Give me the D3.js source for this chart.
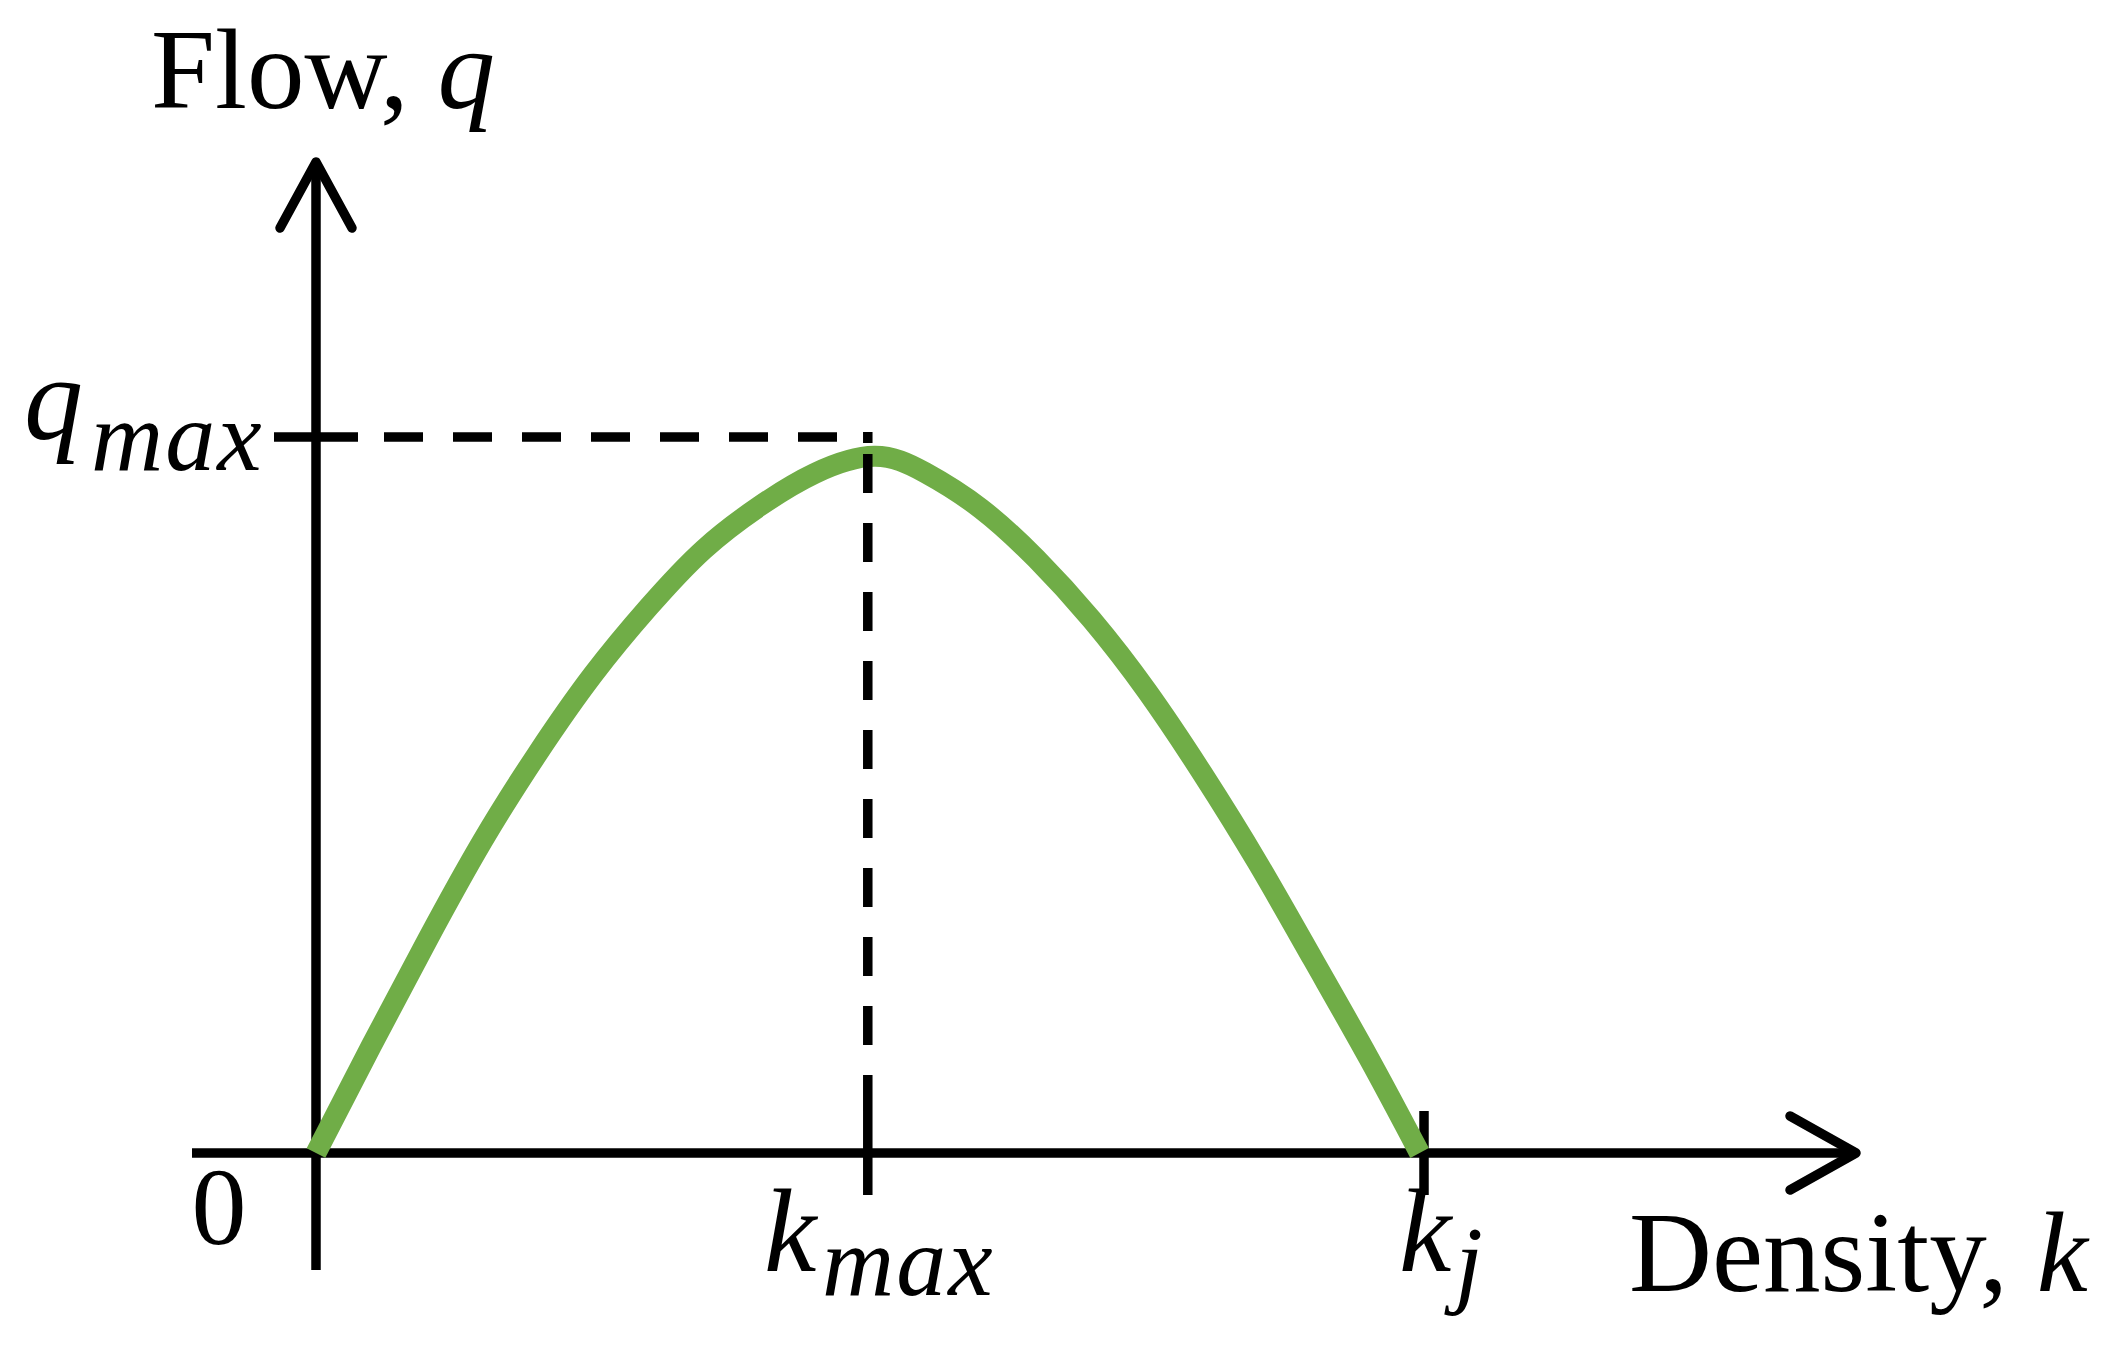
<!DOCTYPE html>
<html lang="en">
<head>
<meta charset="UTF-8">
<title>Flow-Density</title>
<style>
    body { margin: 0; background: #fff; }
    svg { display: block; }
    text { font-family: "Liberation Serif", "Times New Roman", serif; fill: #000; }
    .it { font-style: italic; }
</style>
</head>
<body>
<svg id="chart" width="2120" height="1351"></svg>
<script src="https://d3js.org/d3.v7.min.js"></script>
<script>
// density (% of jam density) and flow (% of q_max)
const density = [0, 5, 10, 15, 20, 25, 30, 35, 40, 45, 50.4, 55, 60, 65, 70, 75, 80, 85, 90, 95, 99.6];
const flow    = [0, 15.0, 29.6, 43.5, 55.8, 66.8, 76.2, 84.3, 90.3, 94.9, 97.3, 95.0, 90.0, 83.0, 74.5, 64.5, 53.0, 40.5, 27.0, 13.3, 0];

// marked values on the axes
const kMax = 49.8;
const kJam = 100;
const qMax = 100;

const svg = d3.select("#chart");

const x = d3.scaleLinear().domain([0, kJam]).range([316, 1424]);
const y = d3.scaleLinear().domain([0, qMax]).range([1153, 437]);

const lw = 9.5;
const x0 = x(0), y0 = y(0);

// axes with arrow heads
const axes = svg.append("g").attr("stroke", "#000").attr("stroke-width", lw).attr("fill", "none");
axes.append("line").attr("x1", x0).attr("x2", x0).attr("y1", 1270).attr("y2", 162);
axes.append("line").attr("x1", 192).attr("x2", 1856).attr("y1", y0).attr("y2", y0);
axes.append("path")
    .attr("d", `M${x0 - 36},228 L${x0},162 L${x0 + 36},228`)
    .attr("stroke-linecap", "round").attr("stroke-linejoin", "round");
axes.append("path")
    .attr("d", `M1790,${y0 - 37} L1856,${y0} L1790,${y0 + 37}`)
    .attr("stroke-linecap", "round").attr("stroke-linejoin", "round");

// ticks
const tk = 42;
axes.append("line").attr("x1", x0 - tk).attr("x2", x0 + tk).attr("y1", y(qMax)).attr("y2", y(qMax));
axes.append("line").attr("x1", x(kJam)).attr("x2", x(kJam)).attr("y1", y0 - tk).attr("y2", y0 + tk);
axes.append("line").attr("x1", x(kMax)).attr("x2", x(kMax)).attr("y1", y0 - tk).attr("y2", y0 + tk);

// flow-density curve
const line = d3.line()
    .x(d => x(d[0]))
    .y(d => y(d[1]))
    .curve(d3.curveNatural);

svg.append("path")
    .datum(d3.zip(density, flow))
    .attr("d", line)
    .attr("fill", "none")
    .attr("stroke", "#70ad47")
    .attr("stroke-width", 21);

// dashed guides to q_max and k_max
const guides = svg.append("g").attr("stroke", "#000").attr("stroke-width", lw);
guides.append("line")
    .attr("x1", 384).attr("x2", 837).attr("y1", y(qMax)).attr("y2", y(qMax))
    .attr("stroke-dasharray", "39,30");
guides.append("line")
    .attr("x1", x(kMax)).attr("x2", x(kMax)).attr("y1", y(qMax) - 5).attr("y2", y(qMax) + 6);
guides.append("line")
    .attr("x1", x(kMax)).attr("x2", x(kMax)).attr("y1", 454).attr("y2", y0 - tk)
    .attr("stroke-dasharray", "39,30");

// labels
const t1 = svg.append("text").attr("x", 151).attr("y", 108).attr("font-size", 115);
t1.append("tspan").text("Flow, ");
t1.append("tspan").attr("class", "it").text("q");

const t2 = svg.append("text").attr("x", 1629).attr("y", 1291).attr("font-size", 115);
t2.append("tspan").text("Density, ");
t2.append("tspan").attr("class", "it").text("k");

svg.append("text").attr("x", 219).attr("y", 1244).attr("font-size", 110)
    .attr("text-anchor", "middle").text("0");

function symbol(main, sub, xm, ym, xs, ys) {
    svg.append("text").attr("class", "it").attr("x", xm).attr("y", ym)
        .attr("font-size", 118).text(main);
    svg.append("text").attr("class", "it").attr("x", xs).attr("y", ys)
        .attr("font-size", 100).attr("letter-spacing", 2).text(sub);
}
symbol("q", "max", 24, 439, 91, 470);
symbol("k", "max", 764, 1271, 822, 1295);
symbol("k", "j", 1399, 1271, 1455, 1295);
</script>
</body>
</html>
